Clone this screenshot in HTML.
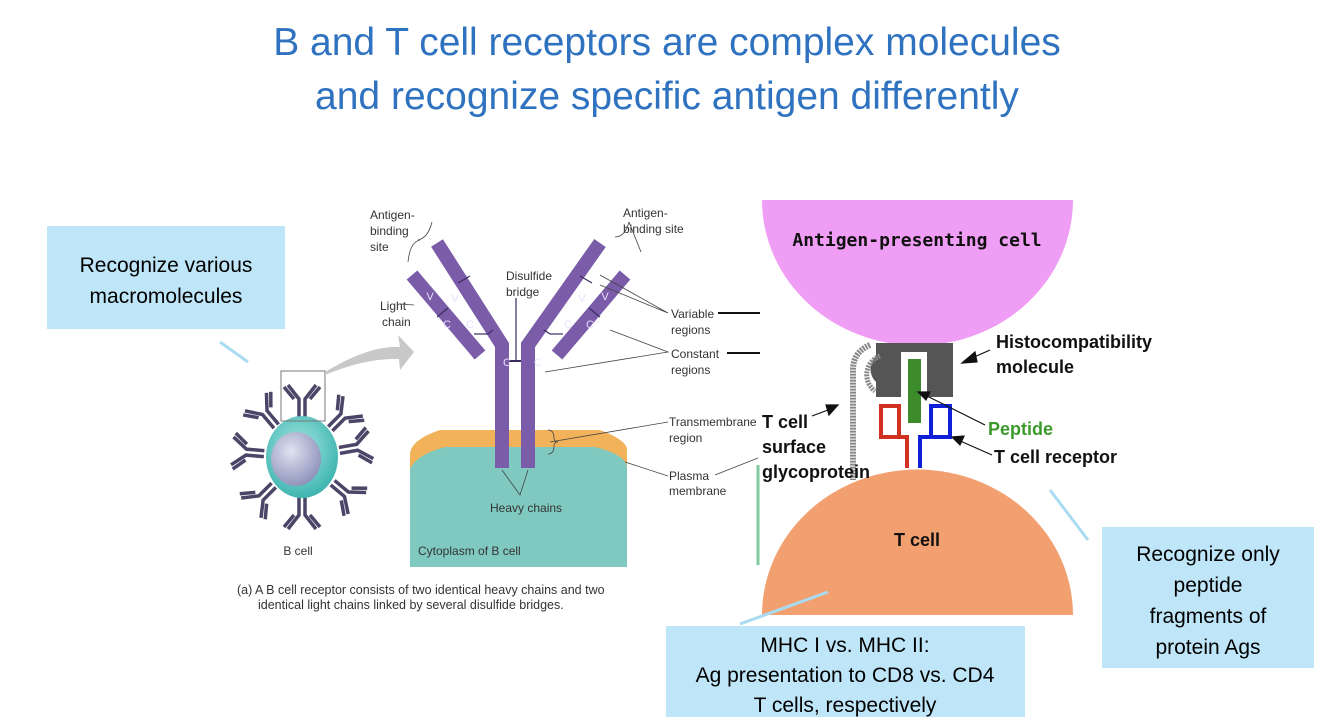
<!DOCTYPE html>
<html><head><meta charset="utf-8"><style>
html,body{margin:0;padding:0;background:#fff;}
svg{display:block;}
</style></head><body>
<svg width="1334" height="717" viewBox="0 0 1334 717" xmlns="http://www.w3.org/2000/svg" font-family="Liberation Sans, sans-serif">
<defs>
<g id="ab" stroke="#4b4668" stroke-width="3.5" fill="none" stroke-linecap="butt">
<path d="M-3,0 V-18 L-14,-32 M3,0 V-18 L14,-32 M-8,-18 L-18,-30 M8,-18 L18,-30"/>
</g>
<radialGradient id="cg" cx="0.45" cy="0.4" r="0.6"><stop offset="0" stop-color="#a8e8e4"/><stop offset="1" stop-color="#3fb5b0"/></radialGradient>
<radialGradient id="ng" cx="0.4" cy="0.35" r="0.7"><stop offset="0" stop-color="#dfe3f0"/><stop offset="1" stop-color="#8b8fb8"/></radialGradient>
</defs>

<!-- Title -->
<g fill="#2f72c0" font-size="39" text-anchor="middle">
<text x="667" y="55">B and T cell receptors are complex molecules</text>
<text x="667" y="109">and recognize specific antigen differently</text>
</g>

<!-- Left callout -->
<rect x="47" y="226" width="238" height="103" fill="#bfe6f8"/>
<g font-size="21" text-anchor="middle" fill="#000">
<text x="166" y="272">Recognize various</text>
<text x="166" y="303">macromolecules</text>
</g>
<line x1="220" y1="342" x2="248" y2="362" stroke="#a9dcf2" stroke-width="3"/>

<!-- Small B cell -->
<g transform="translate(302,457)">
<use href="#ab" transform="rotate(0) translate(0,-40)"/>
<use href="#ab" transform="rotate(45) translate(0,-40)"/>
<use href="#ab" transform="rotate(80) translate(0,-38)"/>
<use href="#ab" transform="rotate(130) translate(0,-40)"/>
<use href="#ab" transform="rotate(180) translate(0,-40)"/>
<use href="#ab" transform="rotate(225) translate(0,-40)"/>
<use href="#ab" transform="rotate(275) translate(0,-38)"/>
<use href="#ab" transform="rotate(320) translate(0,-40)"/>
<ellipse cx="0" cy="0" rx="36" ry="41" fill="url(#cg)"/>
<ellipse cx="-6" cy="2" rx="25" ry="27" fill="url(#ng)"/>
</g>
<rect x="281" y="371" width="44" height="50" fill="none" stroke="#777" stroke-width="1"/>
<path d="M325,372 Q370,345 400,347 L398,335 L414,352 L400,370 L399,359 Q365,358 325,375 Z" fill="#c8c8c8"/>
<text x="298" y="555" font-size="12" fill="#333" text-anchor="middle">B cell</text>

<!-- B cell membrane / cytoplasm -->
<path d="M410,455 Q410,440 440,430 L600,430 Q627,440 627,450 L627,567 L410,567 Z" fill="#f1b25a"/>
<path d="M410,470 Q415,455 445,447 L595,447 Q627,455 627,468 L627,567 L410,567 Z" fill="#7fc9c0"/>
<text x="418" y="555" font-size="12" fill="#333">Cytoplasm of B cell</text>

<!-- Antibody -->
<g stroke="#7a5ca8" stroke-width="14" fill="none" stroke-linejoin="miter">
<polyline points="437,243 502,345 502,468"/>
<polyline points="600,243 528,345 528,468"/>
<line x1="412" y1="275" x2="480" y2="355"/>
<line x1="625" y1="275" x2="557" y2="355"/>
</g>
<g stroke="#3a2c60" stroke-width="1.2" fill="none">
<line x1="458" y1="283" x2="470" y2="276"/>
<line x1="580" y1="276" x2="592" y2="283"/>
<line x1="437" y1="317" x2="448" y2="308"/>
<line x1="589" y1="308" x2="600" y2="317"/>
<line x1="474" y1="334" x2="488" y2="334"/><line x1="488" y1="334" x2="493" y2="330"/>
<line x1="544" y1="330" x2="550" y2="334"/><line x1="550" y1="334" x2="563" y2="334"/>
<line x1="509" y1="361" x2="521" y2="361" stroke-width="2"/>
<line x1="516" y1="298" x2="516" y2="361"/>
</g>
<g font-size="11" fill="#e8e0ff" text-anchor="middle">
<text x="455" y="302">V</text><text x="430" y="300">V</text><text x="470" y="328">C</text><text x="447" y="328">C</text>
<text x="582" y="302">V</text><text x="605" y="300">V</text><text x="568" y="328">C</text><text x="590" y="328">C</text>
<text x="507" y="366">C</text><text x="538" y="366">C</text>
</g>
<g font-size="12" fill="#333">
<text x="370" y="219">Antigen-</text><text x="370" y="235">binding</text><text x="370" y="251">site</text>
<text x="623" y="217">Antigen-</text><text x="623" y="233">binding site</text>
<text x="506" y="280">Disulfide</text><text x="506" y="296">bridge</text>
<text x="380" y="310">Light</text><text x="382" y="326">chain</text>
<text x="671" y="318">Variable</text><text x="671" y="334">regions</text>
<text x="671" y="358">Constant</text><text x="671" y="374">regions</text>
<text x="669" y="426">Transmembrane</text><text x="669" y="442">region</text>
<text x="669" y="480">Plasma</text><text x="669" y="495">membrane</text>
<text x="490" y="512">Heavy chains</text>
<text x="237" y="594" font-size="12.5">(a) A B cell receptor consists of two identical heavy chains and two</text>
<text x="258" y="609" font-size="12.5">identical light chains linked by several disulfide bridges.</text>
</g>
<g stroke="#444" stroke-width="0.8" fill="none">
<path d="M408,262 q2,-20 12,-22 M418,240 q10,-2 14,-18"/>
<path d="M615,237 q10,0 14,-15 M629,222 q4,10 12,30"/>
<line x1="400" y1="304" x2="414" y2="305"/>
<polyline points="600,275 668,313 600,285"/>
<polyline points="610,330 668,352 545,372"/>
<line x1="550" y1="442" x2="668" y2="422"/>
<path d="M548,430 q6,0 6,8 q0,4 4,4 q-4,0 -4,4 q0,8 -6,8"/>
<line x1="625" y1="462" x2="668" y2="476"/>
<line x1="715" y1="475" x2="758" y2="458"/>
<polyline points="502,470 520,495 528,470"/>
</g>
<line x1="718" y1="313" x2="760" y2="313" stroke="#111" stroke-width="2"/>
<line x1="727" y1="353" x2="760" y2="353" stroke="#111" stroke-width="2"/>
<line x1="758" y1="465" x2="758" y2="565" stroke="#7fc9a0" stroke-width="3"/>

<!-- APC -->
<path d="M762,200 L1073,200 A155,145 0 0 1 762,200 Z" fill="#f09ef5"/>
<text x="917" y="246" font-size="18" font-weight="bold" text-anchor="middle" fill="#111" font-family="DejaVu Sans Mono, monospace">Antigen-presenting cell</text>
<!-- T cell -->
<path d="M762,615 A155,145 0 0 1 1073,615 Z" fill="#f2a070"/>
<text x="917" y="546" font-size="18" font-weight="bold" text-anchor="middle" fill="#111">T cell</text>

<!-- MHC -->
<path d="M876,343 H953 V397 H876 V382 A18,18 0 0 1 876,356 Z" fill="#555"/>
<rect x="901" y="352" width="26" height="55" fill="#fff"/>
<rect x="908" y="359" width="13" height="64" fill="#3c8c2c"/>
<path d="M870,345 Q853,352 853,370 L853,480" stroke="#888" stroke-width="6" fill="none" stroke-dasharray="2 1"/>
<path d="M880,356 A20,20 0 0 0 875,391" stroke="#888" stroke-width="5" fill="none" stroke-dasharray="2 1"/>
<!-- TCR -->
<path d="M881,406 H899 V437 H881 Z M899,437 H907 V468" stroke="#d23020" stroke-width="4" fill="none"/>
<path d="M931,406 H950 V437 H931 Z M931,437 H920 V468" stroke="#1020d8" stroke-width="4" fill="none"/>
<g font-size="18" font-weight="bold" fill="#111">
<text x="996" y="348">Histocompatibility</text><text x="996" y="373">molecule</text>
<text x="988" y="435" fill="#3c9a2c">Peptide</text>
<text x="994" y="463">T cell receptor</text>
<text x="762" y="428">T cell</text><text x="762" y="453">surface</text><text x="762" y="478">glycoprotein</text>
</g>
<g stroke="#111" stroke-width="1.2" fill="#111">
<line x1="990" y1="350" x2="972" y2="358"/><polygon points="962,363 975,352 977,362"/>
<line x1="985" y1="425" x2="925" y2="395"/><polygon points="918,392 930,392 926,400"/>
<line x1="992" y1="455" x2="958" y2="440"/><polygon points="952,437 964,436 960,445"/>
<line x1="812" y1="416" x2="828" y2="410"/><polygon points="838,405 826,405 829,415"/>
</g>

<!-- Right callout -->
<line x1="1050" y1="490" x2="1088" y2="540" stroke="#a9dcf2" stroke-width="3"/>
<rect x="1102" y="527" width="212" height="141" fill="#bfe6f8"/>
<g font-size="21" text-anchor="middle" fill="#000">
<text x="1208" y="561">Recognize only</text><text x="1208" y="592">peptide</text>
<text x="1208" y="623">fragments of</text><text x="1208" y="654">protein Ags</text>
</g>
<!-- Bottom callout -->
<line x1="740" y1="624" x2="828" y2="592" stroke="#a9dcf2" stroke-width="3"/>
<rect x="666" y="626" width="359" height="91" fill="#bfe6f8"/>
<g font-size="21" text-anchor="middle" fill="#000">
<text x="845" y="652">MHC I vs. MHC II:</text>
<text x="845" y="682">Ag presentation to CD8 vs. CD4</text>
<text x="845" y="712">T cells, respectively</text>
</g>
</svg>
</body></html>
